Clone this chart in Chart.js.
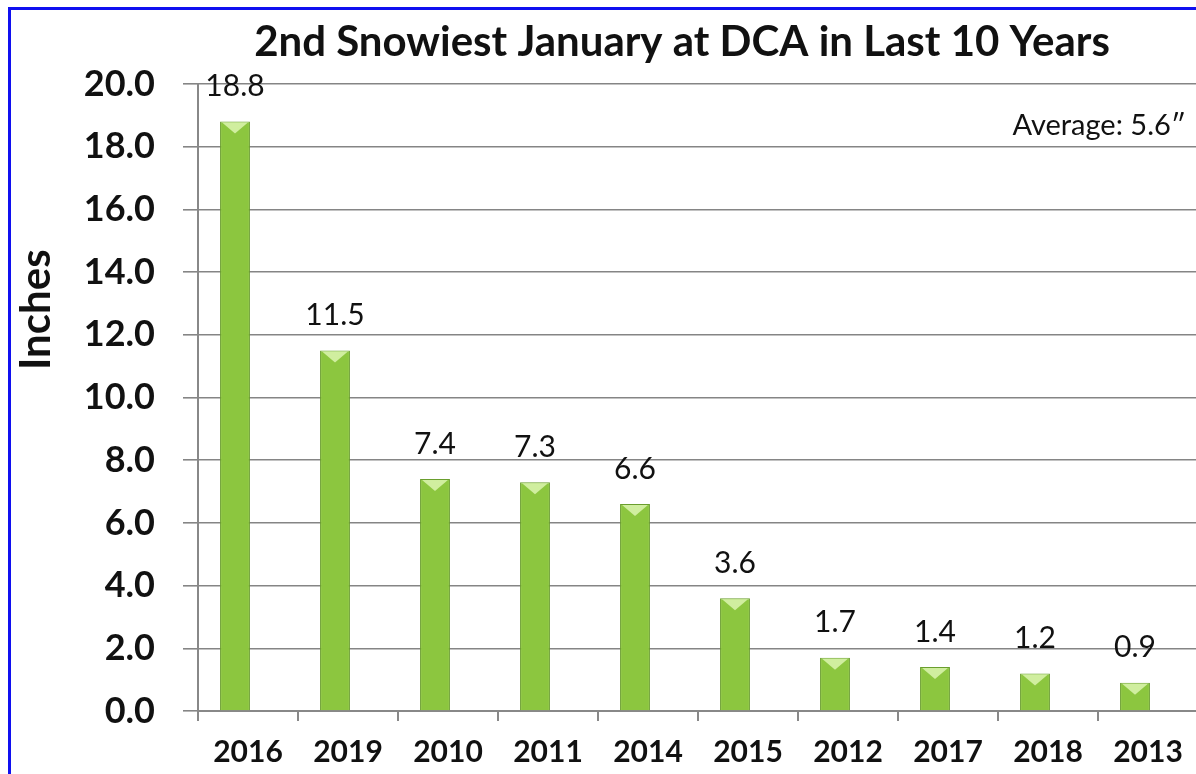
<!DOCTYPE html>
<html>
<head>
<meta charset="utf-8">
<script src="https://cdn.jsdelivr.net/npm/chart.js@4.4.1/dist/chart.umd.min.js"></script>
<style>
  html, body { margin: 0; padding: 0; background: #fff; overflow: hidden; }
  #wrap { position: absolute; left: 0; top: 0; width: 1196px; height: 774px; }
  #frame {
    position: absolute; left: 8px; top: 7px; width: 1300px; height: 900px;
    border-left: 3px solid #1010f0; border-top: 3px solid #1010f0;
    pointer-events: none;
  }
  canvas { position: absolute; left: 0; top: 0; }
</style>
</head>
<body>
<div id="wrap">
  <canvas id="chart" width="1200" height="774"></canvas>
  <div id="frame"></div>
</div>
<script>
// datos
const years = ['2016', '2019', '2010', '2011', '2014', '2015', '2012', '2017', '2018', '2013'];
const snowInches = [18.8, 11.5, 7.4, 7.3, 6.6, 3.6, 1.7, 1.4, 1.2, 0.9];
// serie vacía: en el original la barra queda corrida a la izquierda de su categoría
const emptySeries = [null, null, null, null, null, null, null, null, null, null];
const yTicks = [0, 2, 4, 6, 8, 10, 12, 14, 16, 18, 20];
const chartTitle = '2nd Snowiest January at DCA in Last 10 Years';
const yAxisTitle = 'Inches';
const averageNote = 'Average: 5.6\u2033';

const FONT = 'Lato, "Open Sans", sans-serif';

// relleno con degradado horizontal para dar efecto de columna
function barFill(ctx) {
  const el = ctx.element;
  const chart = ctx.chart;
  if (!el || !chart.chartArea || !Number.isFinite(el.x) || !Number.isFinite(el.width)) return '#8cc63f';
  const w = el.width;
  const g = chart.ctx.createLinearGradient(el.x - w / 2, 0, el.x + w / 2, 0);
  g.addColorStop(0, '#74ad30');
  g.addColorStop(0.2, '#92cc4a');
  g.addColorStop(0.5, '#a8dc62');
  g.addColorStop(0.8, '#92cc4a');
  g.addColorStop(1, '#74ad30');
  return g;
}

const extras = {
  id: 'extras',
  afterDatasetsDraw(chart) {
    const ctx = chart.ctx;
    const meta = chart.getDatasetMeta(0);
    const area = chart.chartArea;
    ctx.save();
    // punta clara arriba de cada barra
    meta.data.forEach((bar) => {
      const w = bar.width;
      const h = Math.min(12, bar.base - bar.y);
      ctx.fillStyle = 'rgba(215, 242, 170, 0.9)';
      ctx.beginPath();
      ctx.moveTo(bar.x - w / 2 + 2, bar.y + 1);
      ctx.lineTo(bar.x + w / 2 - 2, bar.y + 1);
      ctx.lineTo(bar.x, bar.y + h);
      ctx.closePath();
      ctx.fill();
    });
    // etiquetas de valor
    ctx.fillStyle = '#111';
    ctx.font = '30px ' + FONT;
    ctx.textAlign = 'center';
    ctx.textBaseline = 'middle';
    meta.data.forEach((bar, i) => {
      ctx.fillText(snowInches[i].toFixed(1), bar.x, bar.y - 35);
    });
    // nota del promedio
    ctx.font = '29px ' + FONT;
    ctx.textAlign = 'right';
    ctx.fillText(averageNote, area.right - 12, chart.scales.y.getPixelForValue(18.66));
    // título
    ctx.font = 'bold 42px ' + FONT;
    ctx.textAlign = 'center';
    ctx.fillText(chartTitle, (area.left + area.right) / 2 - 16, 42);
    // título del eje Y
    ctx.font = 'bold 42px ' + FONT;
    ctx.translate(36, chart.scales.y.getPixelForValue(12.8));
    ctx.rotate(-Math.PI / 2);
    ctx.fillText(yAxisTitle, 0, 0);
    ctx.restore();
  }
};

new Chart(document.getElementById('chart'), {
  type: 'bar',
  data: {
    labels: years,
    datasets: [{
      data: snowInches,
      backgroundColor: barFill,
      borderColor: '#6a9e2e',
      borderWidth: 1,
      barPercentage: 1.15,
      categoryPercentage: 0.52
    }, {
      data: emptySeries,
      backgroundColor: 'rgba(0,0,0,0)',
      barPercentage: 1.15,
      categoryPercentage: 0.52
    }]
  },
  options: {
    responsive: false,
    animation: false,
    layout: { padding: { left: 0, right: 2, top: 84, bottom: 0 } },
    plugins: {
      legend: { display: false },
      tooltip: { enabled: false },
      title: { display: false }
    },
    scales: {
      x: {
        afterFit: (scale) => { scale.height = 63; },
        grid: {
          offset: true,
          drawOnChartArea: false,
          drawTicks: true,
          tickLength: 10,
          color: '#888',
          lineWidth: 2
        },
        border: { color: '#888', width: 2 },
        ticks: {
          color: '#111',
          padding: 13,
          font: { family: FONT, size: 30, weight: 'bold' }
        }
      },
      y: {
        min: 0,
        max: 20,
        afterBuildTicks: (scale) => {
          scale.ticks = yTicks.map((v) => ({ value: v }));
        },
        afterFit: (scale) => { scale.width = 198; },
        grid: {
          color: '#858585',
          lineWidth: 1.6,
          tickLength: 15
        },
        border: { color: '#888', width: 2 },
        ticks: {
          color: '#111',
          padding: 28,
          font: { family: FONT, size: 36, weight: 'bold' },
          callback: (v) => Number(v).toFixed(1)
        }
      }
    }
  },
  plugins: [extras]
});
</script>
</body>
</html>
